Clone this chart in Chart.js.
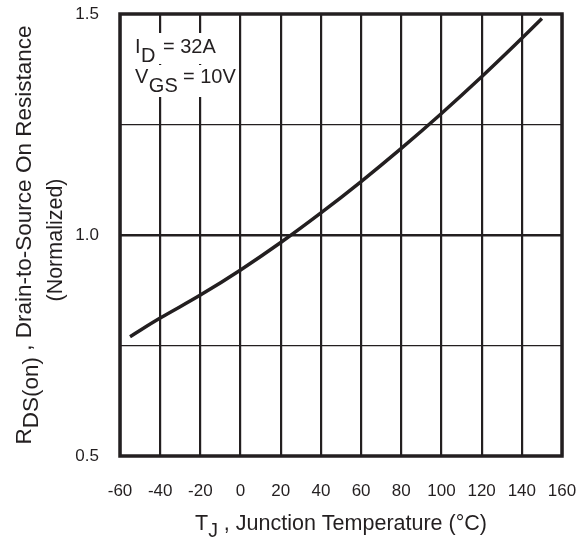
<!DOCTYPE html>
<html>
<head>
<meta charset="utf-8">
<script src="https://cdn.jsdelivr.net/npm/chart.js@4"></script>
<style>
  html, body { margin: 0; padding: 0; background: #fff; }
  #wrap { width: 588px; height: 541px; }
</style>
</head>
<body>
<div id="wrap"><canvas id="c" width="588" height="541"></canvas></div>
<script>
// ---- data ----
const temperatures = [-55, -40, -20, 0, 20, 40, 60, 80, 100, 120, 140, 150];
const resistance   = [0.77, 0.812, 0.864, 0.921, 0.983, 1.05, 1.121, 1.196, 1.275, 1.358, 1.445, 1.49];
const xTickValues  = [-60, -40, -20, 0, 20, 40, 60, 80, 100, 120, 140, 160];
const yGridValues  = [0.5, 0.75, 1.0, 1.25, 1.5];
const yLabelValues = [0.5, 1.0, 1.5];
const yTickLabels  = ['0.5', '1.0', '1.5'];
const xTitleMain = 'T';
const xTitleSub = 'J';
const xTitleRest = ' , Junction Temperature (°C)';
const yTitleMain = 'R';
const yTitleSub = 'DS(on)';
const yTitleRest = ' , Drain-to-Source On Resistance';
const yTitleLine2 = '(Normalized)';
const noteLines = [
  { main: 'I', sub: 'D', rest: '= 32A' },
  { main: 'V', sub: 'GS', rest: '= 10V' }
];

const INK = '#231f20';
const FONT = '"Liberation Sans", Arial, Helvetica, sans-serif';

const points = temperatures.map((t, i) => ({ x: t, y: resistance[i] }));

function zeroPad(scale) {
  scale.paddingLeft = 0; scale.paddingRight = 0;
  scale.paddingTop = 0; scale.paddingBottom = 0;
}

const decor = {
  id: 'decor',
  afterDatasetsDraw(chart) {
    const { ctx, chartArea: a } = chart;
    ctx.save();
    // frame
    ctx.strokeStyle = INK;
    ctx.lineWidth = 3.5;
    ctx.strokeRect(a.left, a.top, a.right - a.left, a.bottom - a.top);

    // annotation with knockout background
    ctx.fillStyle = '#fff';
    ctx.fillRect(133, 33, 87, 31);
    ctx.fillRect(133, 65, 105, 32);
    ctx.fillStyle = INK;
    ctx.textBaseline = 'alphabetic';
    ctx.textAlign = 'left';
    ctx.font = '20px ' + FONT;
    const rowsY = [53, 83];
    const restX = [163, 183];
    noteLines.forEach((ln, i) => {
      const y = rowsY[i];
      ctx.fillText(ln.main, 135, y);
      const w = ctx.measureText(ln.main).width;
      ctx.fillText(ln.sub, 135 + w + 0.5, y + 9);
      ctx.fillText(ln.rest, restX[i], y);
    });

    // x title
    const mainF = '21.5px ' + FONT;
    const subF = '19.5px ' + FONT;
    ctx.font = mainF;
    const wMain = ctx.measureText(xTitleMain).width;
    const wRest = ctx.measureText(xTitleRest).width;
    ctx.font = subF;
    const wSub = ctx.measureText(xTitleSub).width;
    const total = wMain + wSub + wRest;
    const x0 = (a.left + a.right) / 2 - total / 2;
    const yb = 530;
    ctx.font = mainF;
    ctx.fillText(xTitleMain, x0, yb);
    ctx.font = subF;
    ctx.fillText(xTitleSub, x0 + wMain, yb + 7);
    ctx.font = mainF;
    ctx.fillText(xTitleRest, x0 + wMain + wSub, yb);

    // y title (rotated)
    const yF = '22.5px ' + FONT;
    ctx.save();
    ctx.translate(31, (a.top + a.bottom) / 2);
    ctx.rotate(-Math.PI / 2);
    ctx.font = yF;
    const yM = ctx.measureText(yTitleMain).width;
    const yR = ctx.measureText(yTitleRest).width;
    const yS = ctx.measureText(yTitleSub).width;
    const yT = yM + yS + yR;
    const s = -yT / 2;
    ctx.fillText(yTitleMain, s, 0);
    ctx.fillText(yTitleSub, s + yM, 7);
    ctx.fillText(yTitleRest, s + yM + yS, 0);
    ctx.restore();

    ctx.save();
    ctx.translate(62, (a.top + a.bottom) / 2 + 5);
    ctx.rotate(-Math.PI / 2);
    ctx.font = '21.5px ' + FONT;
    ctx.textAlign = 'center';
    ctx.fillText(yTitleLine2, 0, 0);
    ctx.restore();

    ctx.restore();
  }
};

new Chart(document.getElementById('c'), {
  type: 'line',
  data: {
    datasets: [{
      data: points,
      borderColor: INK,
      borderWidth: 3.5,
      pointRadius: 0,
      fill: false,
      tension: 0.4
    }]
  },
  options: {
    responsive: false,
    animation: false,
    events: [],
    layout: { padding: { left: 0, right: 26, top: 14, bottom: 0 } },
    plugins: { legend: { display: false }, tooltip: { enabled: false } },
    scales: {
      x: {
        type: 'linear',
        min: -60, max: 160,
        afterFit(scale) { scale.height = 85; zeroPad(scale); },
        afterBuildTicks(scale) { scale.ticks = xTickValues.map(v => ({ value: v })); },
        grid: { color: INK, lineWidth: 2.2, drawTicks: false },
        border: { display: false },
        ticks: {
          color: INK, padding: 25,
          font: { family: FONT, size: 17 },
          maxRotation: 0, autoSkip: false,
          callback: v => String(v)
        }
      },
      y: {
        type: 'linear',
        min: 0.5, max: 1.5,
        afterFit(scale) { scale.width = 120; zeroPad(scale); },
        afterBuildTicks(scale) { scale.ticks = yGridValues.map(v => ({ value: v })); },
        grid: {
          color: INK,
          drawTicks: false,
          lineWidth: c => (c.tick && Math.abs(c.tick.value - 1.0) < 1e-6) ? 2.5 : 1.2
        },
        border: { display: false },
        ticks: {
          color: INK, padding: 21,
          font: { family: FONT, size: 17 },
          autoSkip: false,
          callback: v => {
            const idx = yLabelValues.findIndex(t => Math.abs(t - v) < 1e-6);
            return idx >= 0 ? yTickLabels[idx] : '';
          }
        }
      }
    }
  },
  plugins: [decor]
});
</script>
</body>
</html>
